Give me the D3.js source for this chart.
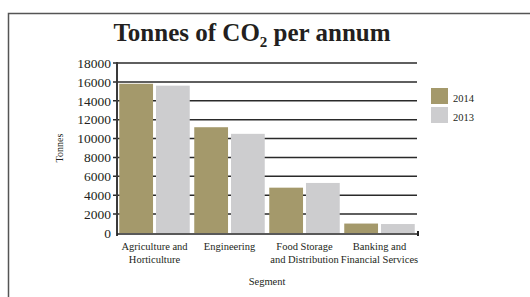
<!DOCTYPE html>
<html><head><meta charset="utf-8">
<script src="https://cdn.jsdelivr.net/npm/d3@7"></script>
<style>body{margin:0;background:#fff;} text{font-family:"Liberation Serif","DejaVu Serif",serif;fill:#231f20;}</style>
</head><body><svg id="c" width="530" height="297"></svg>
<script>
const categories = [["Agriculture and","Horticulture"],["Engineering"],["Food Storage","and Distribution"],["Banking and","Financial Services"]];
const seriesNames = ["2014","2013"];
const values2014 = [15800, 11200, 4800, 1000];
const values2013 = [15600, 10500, 5300, 950];
const yTicks = [0,2000,4000,6000,8000,10000,12000,14000,16000,18000];
const colors = ["#a4996b","#cdcdcf"];

const svg = d3.select("#c");
const pLeft = 117, pRight = 417, pTop = 63, pBottom = 233;

// frame
svg.append("path").attr("d","M8.5,300 L8.5,13.5 L540,13.5").attr("fill","none").attr("stroke","#555").attr("stroke-width",1.5);

// title
const t = svg.append("text").attr("x",252).attr("y",41).attr("text-anchor","middle")
  .attr("font-size",25).attr("font-weight","bold");
t.append("tspan").text("Tonnes of CO");
t.append("tspan").attr("font-size",15).attr("dy",6).text("2");
t.append("tspan").attr("dy",-6).text(" per annum");

const x = d3.scaleBand().domain(d3.range(categories.length)).range([pLeft,pRight]).paddingInner(0.06).paddingOuter(0.03);
const xs = d3.scaleBand().domain(seriesNames).range([0,x.bandwidth()]).paddingInner(0.08);
const y = d3.scaleLinear().domain([0,18000]).range([pBottom,pTop]);

// gridlines
svg.append("g").selectAll("line").data(yTicks.filter(d=>d>0)).join("line")
  .attr("x1",pLeft-4).attr("x2",pRight).attr("y1",d=>y(d)).attr("y2",d=>y(d))
  .attr("stroke","#2a2a2a").attr("stroke-width",1.5);

// y axis labels
const yAxis = d3.axisLeft(y).tickValues(yTicks).tickSize(0).tickPadding(5).tickFormat(d3.format("d"));
const ga = svg.append("g").attr("transform",`translate(${pLeft-1},0)`).call(yAxis);
ga.select(".domain").remove();
ga.attr("font-family",null);
ga.selectAll("text").style("font-family","'Liberation Serif', serif").style("font-size","13.5px").attr("fill","#231f20");

// bars
const data = categories.map((c,i)=>({i, vals:[values2014[i], values2013[i]]}));
const g = svg.append("g").selectAll("g").data(data).join("g").attr("transform",d=>`translate(${x(d.i)},0)`);
g.selectAll("rect").data(d=>d.vals.map((v,k)=>({k,v}))).join("rect")
  .attr("x",d=>xs(seriesNames[d.k])).attr("width",xs.bandwidth())
  .attr("y",d=>y(d.v)).attr("height",d=>pBottom-y(d.v)).attr("fill",d=>colors[d.k]);

// axes lines
svg.append("line").attr("x1",pLeft).attr("x2",pLeft).attr("y1",pTop-1).attr("y2",pBottom+3).attr("stroke","#3a3a3a").attr("stroke-width",2);
svg.append("line").attr("x1",pLeft).attr("x2",pRight+1).attr("y1",pBottom+1).attr("y2",pBottom+1).attr("stroke","#222").attr("stroke-width",1.5);
svg.append("line").attr("x1",pRight+1).attr("x2",pRight+1).attr("y1",pBottom-2).attr("y2",pBottom+3).attr("stroke","#222").attr("stroke-width",2);

// x labels
const xl = svg.append("g").selectAll("text").data(categories).join("text")
  .attr("x",(d,i)=>x(i)+x.bandwidth()/2).attr("y",250).attr("text-anchor","middle").attr("font-size",10.5);
xl.selectAll("tspan").data(d=>d).join("tspan").attr("x",function(){return this.parentNode.getAttribute("x");})
  .attr("dy",(d,i)=>i?13:0).text(d=>d);

svg.append("text").attr("x",267).attr("y",285).attr("text-anchor","middle").attr("font-size",10.5).text("Segment");
svg.append("text").attr("transform","translate(63,148) rotate(-90)").attr("text-anchor","middle").attr("font-size",10).text("Tonnes");

// legend
const lg = svg.append("g").selectAll("g").data(seriesNames).join("g").attr("transform",(d,i)=>`translate(431,${88+i*19})`);
lg.append("rect").attr("width",17).attr("height",16).attr("fill",(d,i)=>colors[i]);
lg.append("text").attr("x",22).attr("y",14).attr("font-size",10.5).text(d=>d);
</script></body></html>
